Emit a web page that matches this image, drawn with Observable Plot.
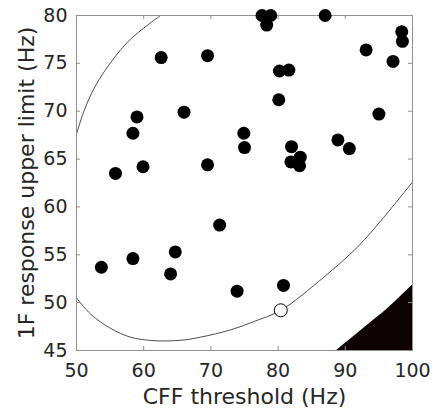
<!DOCTYPE html>
<html><head><meta charset="utf-8">
<script src="https://cdn.jsdelivr.net/npm/d3@7"></script>
<script src="https://cdn.jsdelivr.net/npm/@observablehq/plot@0.6"></script>
<style>body{margin:0;background:#fff} svg{display:block}</style>
</head><body><div id="chart"></div>
<script>
// Data
const cffThreshold = [53.7, 55.8, 58.4, 58.4, 59.0, 59.9, 62.6, 64.0, 64.7, 66.0, 69.5, 69.5, 71.3, 73.9, 74.9, 75.0, 77.6, 78.9, 78.3, 80.1, 80.2, 81.6, 80.8, 82.0, 81.9, 83.3, 83.2, 87.0, 88.9, 90.6, 93.1, 95.0, 97.1, 98.4, 98.5];
const upperLimit   = [53.7, 63.5, 54.6, 67.7, 69.4, 64.2, 75.6, 53.0, 55.3, 69.9, 64.4, 75.8, 58.1, 51.2, 67.7, 66.2, 80.0, 80.0, 79.0, 71.2, 74.2, 74.3, 51.8, 66.3, 64.7, 65.2, 64.3, 80.0, 67.0, 66.1, 76.4, 69.7, 75.2, 78.3, 77.3];
const outlierX = [80.4];
const outlierY = [49.2];
// ellipse contour, read as visible arcs
const arcUpperX = [50.0, 51.1, 52.7, 55.06, 58.0, 62.5];
const arcUpperY = [67.6, 70.0, 72.5, 75.06, 77.5, 80.0];
const arcLowerX = [50.0, 52.1, 55.1, 58.0, 61.0, 63.5, 66.0, 68.5, 72.9, 76.5, 80.4, 86.8, 91.8, 95.7, 100.0];
const arcLowerY = [50.5, 48.8, 47.3, 46.4, 46.05, 46.0, 46.1, 46.4, 47.15, 48.05, 49.2, 52.66, 55.8, 58.9, 62.6];
// shaded region (bottom-right)
const shadeX = [88.8, 92.7, 96.5, 100.0];
const shadeY = [45.05, 47.3, 49.5, 51.85];
const xTicks = [50, 60, 70, 80, 90, 100];
const yTicks = [45, 50, 55, 60, 65, 70, 75, 80];
const xDomain = [50, 100];
const yDomain = [45, 80];
const xLabel = "CFF threshold (Hz)";
const yLabel = "1F response upper limit (Hz)";

const points = cffThreshold.map((x, i) => ({x, y: upperLimit[i]}));
const outlier = outlierX.map((x, i) => ({x, y: outlierY[i]}));
const arcUpper = arcUpperX.map((x, i) => ({x, y: arcUpperY[i]}));
const arcLower = arcLowerX.map((x, i) => ({x, y: arcLowerY[i]}));
const shade = shadeX.map((x, i) => ({x, lo: yDomain[0], hi: shadeY[i]}));

const axisColor = "#8f8f8f";
const chart = Plot.plot({
  width: 433, height: 411,
  marginLeft: 76, marginRight: 21, marginTop: 15, marginBottom: 61,
  style: {fontFamily: "DejaVu Sans", background: "white", color: "#262626", overflow: "visible"},
  x: {domain: xDomain},
  y: {domain: yDomain},
  marks: [
    Plot.areaY(shade, {x: "x", y1: "lo", y2: "hi", fill: "#0c0204", curve: "catmull-rom"}),
    Plot.line(arcUpper, {x: "x", y: "y", curve: "catmull-rom", stroke: "#3a3a3a", strokeWidth: 0.9}),
    Plot.line(arcLower, {x: "x", y: "y", curve: "catmull-rom", stroke: "#3a3a3a", strokeWidth: 0.9}),
    Plot.frame({stroke: axisColor}),
    Plot.ruleX(xTicks, {insetTop: 331, stroke: axisColor}),
    Plot.ruleX(xTicks, {insetBottom: 331, stroke: axisColor}),
    Plot.ruleY(yTicks, {insetRight: 332, stroke: axisColor}),
    Plot.ruleY(yTicks, {insetLeft: 332, stroke: axisColor}),
    Plot.axisX({ticks: xTicks, tickSize: 0, tickPadding: 13, fontSize: 19, label: null}),
    Plot.axisY({ticks: yTicks, tickSize: 0, tickPadding: 9, fontSize: 19, label: null}),
    Plot.dot(points, {x: "x", y: "y", r: 6.5, fill: "black"}),
    Plot.dot(outlier, {x: "x", y: "y", r: 6.5, fill: "white", stroke: "black", strokeWidth: 1}),
    Plot.text([xLabel], {frameAnchor: "bottom", lineAnchor: "middle", textAnchor: "middle", dy: 46, fontSize: 22, fill: "#262626"}),
    Plot.text([yLabel], {frameAnchor: "left", lineAnchor: "middle", textAnchor: "middle", rotate: -90, dx: -50, fontSize: 22, fill: "#262626"})
  ]
});
document.getElementById("chart").append(chart);
</script>
</body></html>
